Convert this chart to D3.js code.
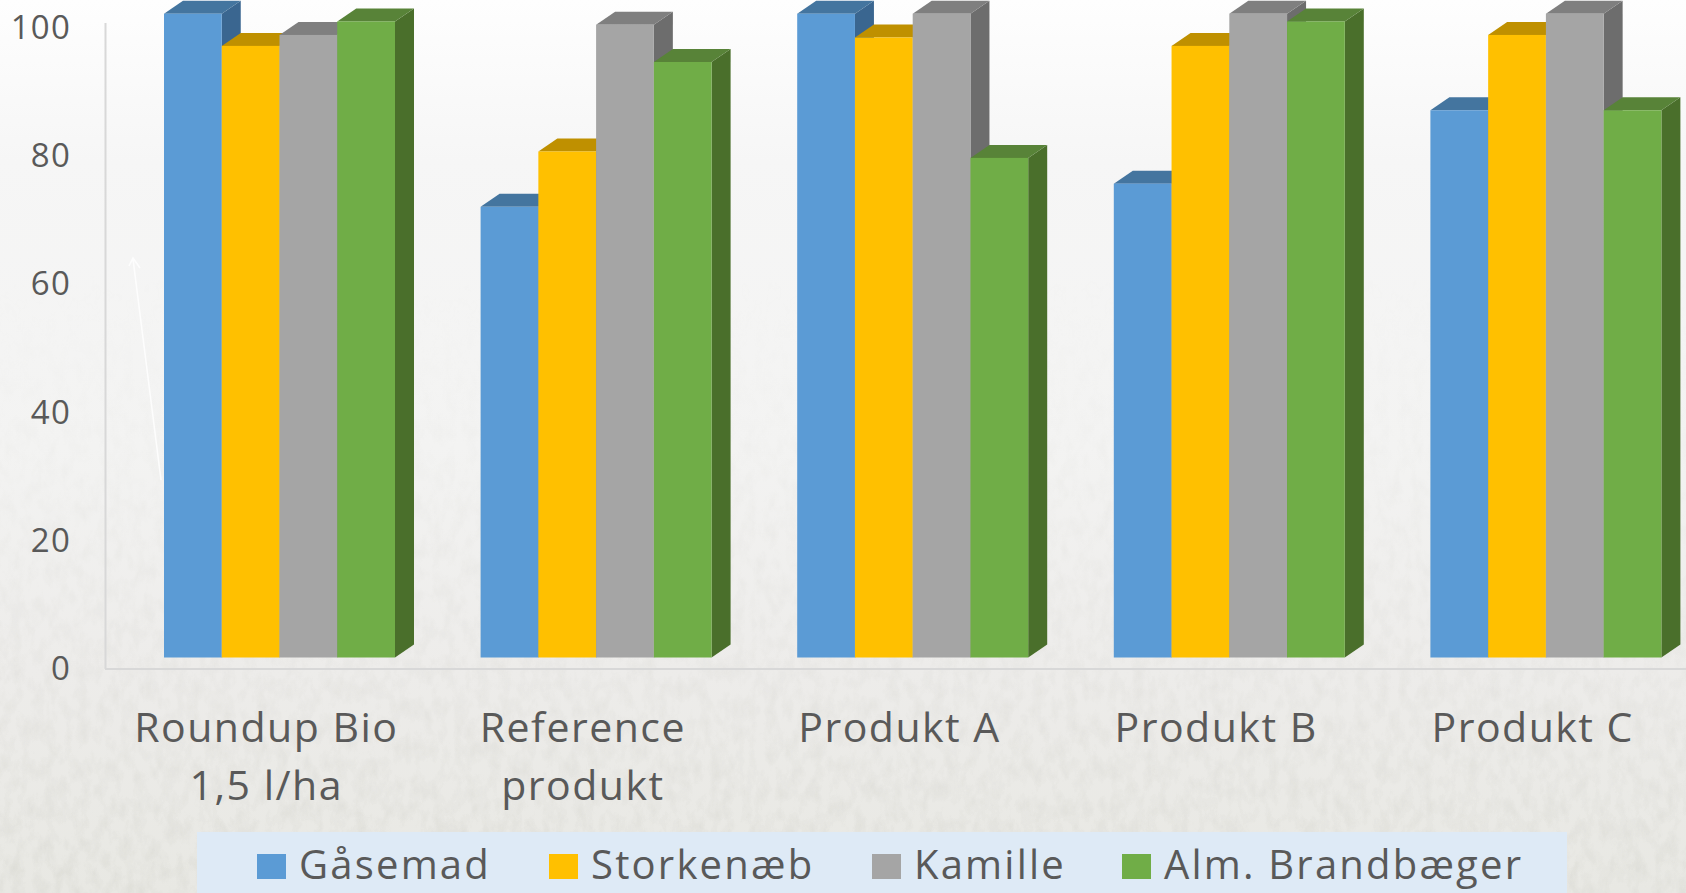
<!DOCTYPE html>
<html>
<head>
<meta charset="utf-8">
<script src="https://cdn.jsdelivr.net/npm/d3@7"></script>
<style>
  html, body { margin: 0; padding: 0; background: #fff; overflow: hidden; }
  svg { display: block; }
  text { font-family: "Open Sans", Lato, sans-serif; fill: #595959; }
</style>
</head>
<body>
<div id="chart"></div>
<script>
var categories = [["Roundup Bio", "1,5 l/ha"], ["Reference", "produkt"], ["Produkt A"], ["Produkt B"], ["Produkt C"]];
var seriesNames = ["Gåsemad", "Storkenæb", "Kamille", "Alm. Brandbæger"];
var gaasemad = [100, 70, 100, 73.6, 85];
var storkenaeb = [95, 78.6, 96.3, 95, 96.7];
var kamille = [96.7, 98.3, 100, 100, 100];
var brandbaeger = [98.8, 92.5, 77.6, 98.8, 85];
var allSeries = [gaasemad, storkenaeb, kamille, brandbaeger];
var yTicks = [0, 20, 40, 60, 80, 100];

var front = ["#5b9bd5", "#ffc000", "#a5a5a5", "#70ad47"];
var tops = ["#44759f", "#bf9000", "#7f7f7f", "#588338"];
var sides = ["#3a6690", "#a37b00", "#6d6d6d", "#4a6f2b"];

var width = 1686, height = 893;
var depthX = 19, depthY = 13;

var svg = d3.select("#chart").append("svg")
  .attr("width", width)
  .attr("height", height);

/* ------- BACKGROUND -------*/
var defs = svg.append("defs");
var bgGrad = defs.append("linearGradient").attr("id", "bg").attr("x1", 0).attr("y1", 0).attr("x2", 0).attr("y2", 1);
bgGrad.append("stop").attr("offset", "0").attr("stop-color", "#fefefe");
bgGrad.append("stop").attr("offset", "0.18").attr("stop-color", "#f6f6f6");
bgGrad.append("stop").attr("offset", "0.5").attr("stop-color", "#f3f3f2");
bgGrad.append("stop").attr("offset", "0.75").attr("stop-color", "#edecea");
bgGrad.append("stop").attr("offset", "1").attr("stop-color", "#e8e8e3");

var fadeGrad = defs.append("linearGradient").attr("id", "fade").attr("x1", 0).attr("y1", 0).attr("x2", 0).attr("y2", 1);
fadeGrad.append("stop").attr("offset", "0.3").attr("stop-color", "#000");
fadeGrad.append("stop").attr("offset", "0.7").attr("stop-color", "#888");
fadeGrad.append("stop").attr("offset", "1").attr("stop-color", "#fff");
defs.append("mask").attr("id", "fadeMask")
  .append("rect").attr("width", width).attr("height", height).attr("fill", "url(#fade)");

var grass = defs.append("filter").attr("id", "grass").attr("x", 0).attr("y", 0).attr("width", 1).attr("height", 1);
grass.append("feTurbulence").attr("type", "fractalNoise").attr("baseFrequency", "0.09 0.05").attr("numOctaves", 5).attr("seed", 11);
grass.append("feColorMatrix").attr("values", "0 0 0 0 0.42  0 0 0 0 0.42  0 0 0 0 0.36  1.1 0 0 0 -0.42");

svg.append("rect").attr("width", width).attr("height", height).attr("fill", "url(#bg)");
svg.append("g").attr("mask", "url(#fadeMask)")
  .append("rect").attr("width", width).attr("height", height)
  .attr("filter", "url(#grass)").attr("opacity", 0.28);

// faint arrow left in the photo behind the chart
svg.append("path")
  .attr("d", "M133,259 L161,480 M129,266 L133,258 L140,268")
  .attr("fill", "none").attr("stroke", "#ffffff").attr("stroke-width", 1.6).attr("opacity", 0.8);

/* ------- SCALES -------*/
// axis labels sit on the back wall, bars stand on the front floor
var yAxisScale = d3.scaleLinear().domain([0, 100]).range([669, 28]);
var yBar = d3.scaleLinear().domain([0, 100]).range([657.5, 13.7]);
var xGroup = d3.scaleBand().domain(d3.range(categories.length)).range([108, 1691]);
var xBar = d3.scaleBand().domain(d3.range(seriesNames.length)).range([56, 287]);

/* ------- AXES -------*/
svg.append("line").attr("x1", 105.5).attr("x2", 105.5).attr("y1", 23).attr("y2", 669)
  .attr("stroke", "#d8d8d8").attr("stroke-width", 2);
svg.append("line").attr("x1", 105).attr("x2", width).attr("y1", 669).attr("y2", 669)
  .attr("stroke", "#d8d8d8").attr("stroke-width", 2);

var yAxis = svg.append("g")
  .attr("transform", "translate(71,0)")
  .call(d3.axisLeft(yAxisScale).tickValues(yTicks).tickSize(0).tickPadding(0));
yAxis.select(".domain").remove();
yAxis.selectAll("text")
  .style("font-family", "'Open Sans', sans-serif")
  .style("font-size", "33px")
  .style("letter-spacing", "1.2px")
  .style("fill", "#595959");

/* ------- BARS -------*/
var groups = svg.selectAll("g.group")
  .data(categories)
  .enter().append("g")
  .attr("class", "group")
  .attr("transform", function(d, i) { return "translate(" + xGroup(i) + ",0)"; });

groups.each(function(c, gi) {
  var g = d3.select(this);
  allSeries.forEach(function(values, si) {
    var x0 = xBar(si), x1 = x0 + xBar.bandwidth();
    var y0 = yBar(values[gi]), yb = yBar(0);
    var bar = g.append("g").attr("class", "bar");
    bar.append("path")
      .attr("fill", sides[si])
      .attr("d", d3.line()([[x1, y0], [x1 + depthX, y0 - depthY], [x1 + depthX, yb - depthY], [x1, yb]]) + "Z");
    bar.append("path")
      .attr("fill", tops[si])
      .attr("d", d3.line()([[x0, y0], [x0 + depthX, y0 - depthY], [x1 + depthX, y0 - depthY], [x1, y0]]) + "Z");
    bar.append("rect")
      .attr("fill", front[si])
      .attr("x", x0).attr("y", y0)
      .attr("width", x1 - x0).attr("height", yb - y0);
  });

  var label = g.append("text")
    .attr("text-anchor", "middle")
    .style("font-size", "41px")
    .style("letter-spacing", "1.5px");
  c.forEach(function(line, li) {
    label.append("tspan")
      .attr("x", xGroup.bandwidth() / 2)
      .attr("y", 742 + li * 57.5)
      .text(line);
  });
});

/* ------- LEGEND -------*/
var legendSwatchX = [257, 549, 872, 1122];
var legend = svg.append("g");
legend.append("rect")
  .attr("x", 197).attr("y", 832).attr("width", 1370).attr("height", 61)
  .attr("fill", "#deeaf6");

var items = legend.selectAll("g.item")
  .data(seriesNames)
  .enter().append("g")
  .attr("class", "item")
  .attr("transform", function(d, i) { return "translate(" + legendSwatchX[i] + ",0)"; });
items.append("rect")
  .attr("y", 854).attr("width", 29).attr("height", 25)
  .attr("fill", function(d, i) { return front[i]; });
items.append("text")
  .attr("x", 42).attr("y", 879)
  .style("font-size", "40px")
  .style("letter-spacing", "2.2px")
  .text(function(d) { return d; });
</script>
</body>
</html>
